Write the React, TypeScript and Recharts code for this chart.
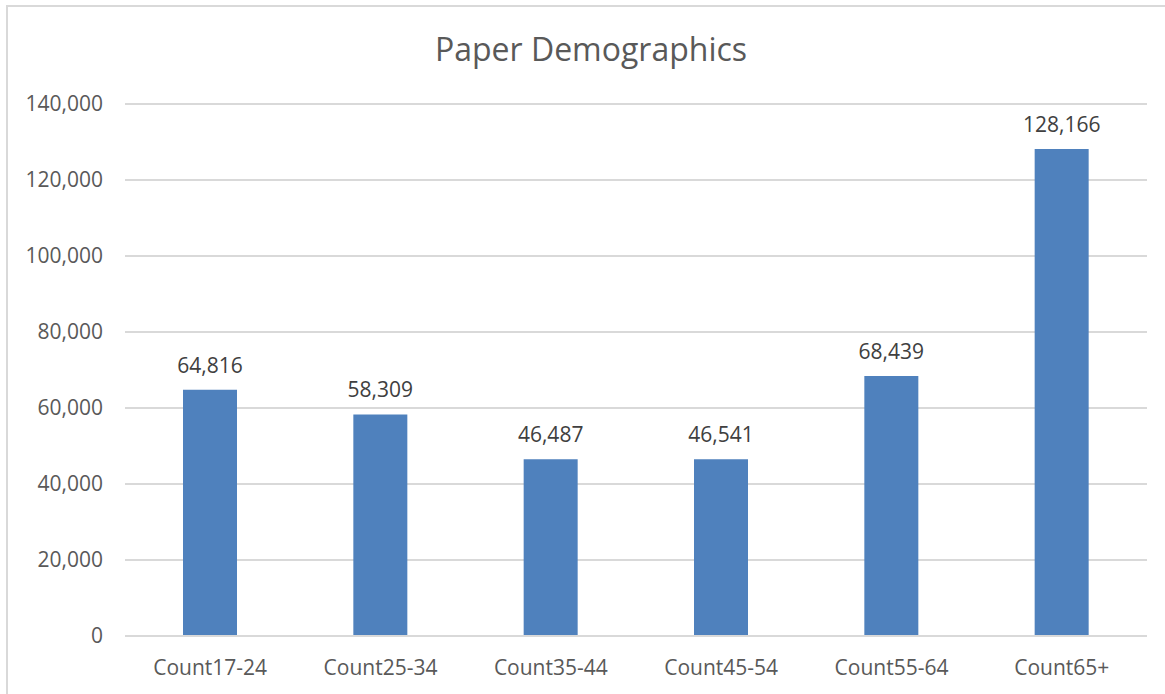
import { BarChart, Bar, XAxis, YAxis, CartesianGrid, LabelList } from "recharts";

const categories = ["Count17-24", "Count25-34", "Count35-44", "Count45-54", "Count55-64", "Count65+"];
const counts = [64816, 58309, 46487, 46541, 68439, 128166];
const yTicks = [0, 20000, 40000, 60000, 80000, 100000, 120000, 140000];

const FONT = "'Open Sans', sans-serif";
const TEXT = "#595959";

const fmt = (v: number) => v.toLocaleString("en-US");

export default function App() {
  const data = categories.map((name, i) => ({ name, count: counts[i] }));

  return (
    <div style={{ position: "absolute", left: 0, top: 0, width: 1165, height: 694, background: "#fff", overflow: "hidden", fontFamily: FONT }}>
      {/* chart area border */}
      <div style={{ position: "absolute", left: 6, top: 5, width: 1200, height: 760, border: "2px solid #d9d9d9", boxSizing: "border-box" }} />
      <div style={{ position: "absolute", left: 0, top: 27, width: 1182, textAlign: "center", fontSize: 32, color: TEXT, lineHeight: "44px" }}>
        Paper Demographics
      </div>
      <div style={{ position: "absolute", left: 0, top: 0 }}>
        <BarChart width={1165} height={694} data={data} margin={{ top: 104, right: 18, bottom: 18, left: 0 }}>
          <CartesianGrid vertical={false} stroke="#d9d9d9" strokeWidth={2} />
          <XAxis
            dataKey="name"
            height={40}
            axisLine={{ stroke: "#d9d9d9", strokeWidth: 2 }}
            tickLine={false}
            tickSize={22}
            tickMargin={2}
            tick={{ fill: TEXT, fontSize: 21, fontFamily: FONT }}
          />
          <YAxis
            width={125}
            domain={[0, 140000]}
            ticks={yTicks}
            axisLine={false}
            tickLine={false}
            tickSize={20}
            tickMargin={2}
            tickFormatter={fmt}
            tick={{ fill: TEXT, fontSize: 21, fontFamily: FONT }}
          />
          <Bar dataKey="count" fill="#4f81bd" barSize={54} isAnimationActive={false}>
            <LabelList dataKey="count" position="top" offset={17} formatter={(v: number) => fmt(v)} style={{ fill: "#404040", fontSize: 21, fontFamily: FONT }} />
          </Bar>
        </BarChart>
      </div>
    </div>
  );
}
